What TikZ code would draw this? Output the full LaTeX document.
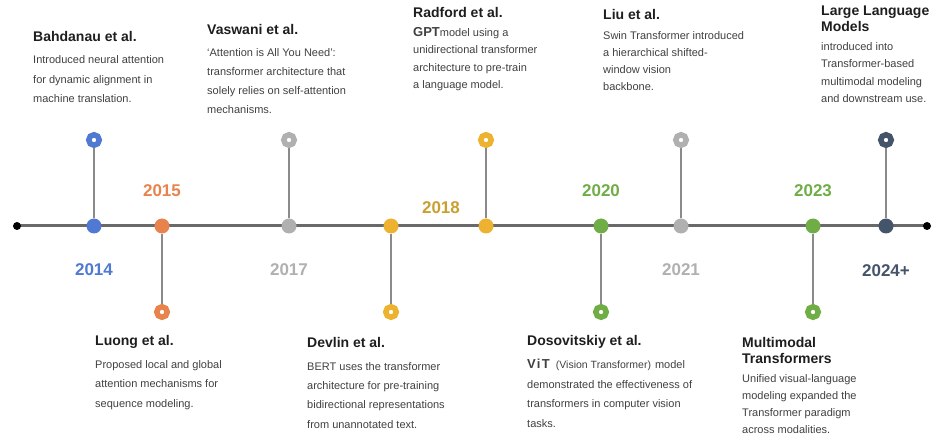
\documentclass[tikz,border=0pt]{standalone}
\usepackage{fontspec}
\setmainfont{Liberation Sans}
\definecolor{cblue}{RGB}{79,121,211}
\definecolor{corange}{RGB}{232,131,78}
\definecolor{cgray}{RGB}{176,176,176}
\definecolor{cgold}{RGB}{237,178,47}
\definecolor{cgoldtext}{RGB}{201,160,48}
\definecolor{cgreen}{RGB}{112,173,71}
\definecolor{cnavy}{RGB}{68,84,106}
\definecolor{axisgray}{RGB}{105,105,105}
\definecolor{stemgray}{RGB}{138,138,138}
\definecolor{titlecol}{RGB}{30,30,30}
\definecolor{bodycol}{RGB}{64,64,64}
\tikzset{
  axis/.style={line width=3pt, draw=axisgray},
  stem/.style={line width=1.8pt, draw=stemgray},
  dot/.style={circle, fill=#1, minimum size=15pt, inner sep=0pt},
  ring/.style={circle, draw=#1, line width=5.5pt, fill=white, minimum size=10.5pt, inner sep=0pt},
  enddot/.style={circle, fill=black, minimum size=8pt, inner sep=0pt},
  year/.style={text=#1, inner sep=0pt, font=\fontsize{17}{20}\selectfont\bfseries},
  % multi-line nodes: base anchor sits on the last line
  title/.style={anchor=base west, inner sep=0pt, text=titlecol, align=left, font=\fontsize{14}{16}\selectfont\bfseries},
  body/.style={anchor=base west, inner sep=0pt, text=bodycol, align=left, font=\fontsize{11}{#1}\selectfont},
}
\begin{document}
\begin{tikzpicture}[x=1pt,y=-1pt]
    \useasboundingbox (0,0) rectangle (932,438);
    % axis
    \coordinate (L) at (17,226);
    \coordinate (R) at (927,226);
    \draw[axis] (L) -- (R);
    \node[enddot] (Ldot) at (L) {};
    \node[enddot] (Rdot) at (R) {};
    % dots on the axis
    \node[dot=cblue] (d14) at (94,226) {};
    \node[dot=corange] (d15) at (162,226) {};
    \node[dot=cgray] (d17) at (289,226) {};
    \node[dot=cgold] (d18a) at (391,226) {};
    \node[dot=cgold] (d18b) at (486,226) {};
    \node[dot=cgreen] (d20) at (601,226) {};
    \node[dot=cgray] (d21) at (681,226) {};
    \node[dot=cgreen] (d23) at (813,226) {};
    \node[dot=cnavy] (d24) at (886,226) {};
    % rings above and below
    \node[ring=cblue] (r14) at (94,140) {};
    \node[ring=corange] (r15) at (162,312) {};
    \node[ring=cgray] (r17) at (289,140) {};
    \node[ring=cgold] (r18a) at (391,312) {};
    \node[ring=cgold] (r18b) at (486,140) {};
    \node[ring=cgreen] (r20) at (601,312) {};
    \node[ring=cgray] (r21) at (681,140) {};
    \node[ring=cgreen] (r23) at (813,312) {};
    \node[ring=cnavy] (r24) at (886,140) {};
    \draw[stem] (d14) -- (r14);
    \draw[stem] (d15) -- (r15);
    \draw[stem] (d17) -- (r17);
    \draw[stem] (d18a) -- (r18a);
    \draw[stem] (d18b) -- (r18b);
    \draw[stem] (d20) -- (r20);
    \draw[stem] (d21) -- (r21);
    \draw[stem] (d23) -- (r23);
    \draw[stem] (d24) -- (r24);
    % years
    \node[year=cblue] (y14) at (94,270) {2014};
    \node[year=corange] (y15) at (162,191) {2015};
    \node[year=cgray] (y17) at (289,270) {2017};
    \node[year=cgoldtext] (y18) at (441,208) {2018};
    \node[year=cgreen] (y20) at (601,191) {2020};
    \node[year=cgray] (y21) at (681,270) {2021};
    \node[year=cgreen] (y23) at (813,191) {2023};
    \node[year=cnavy] (y24) at (886,271) {2024+};
    % upper texts
    \node[title] (t14) at (33,42) {Bahdanau et al.};
    \node[body=19.5] (b14) at (33,103) {Introduced neural attention\\for dynamic alignment in\\machine translation.};
    \node[title] (t17) at (207,35) {Vaswani et al.};
    \node[body=19] (b17) at (207,114) {‘Attention is All You Need’:\\transformer architecture that\\solely relies on self-attention\\mechanisms.};
    \node[title] (t18b) at (413,18) {Radford et al.};
    \node[body=17.5] (b18b) at (413,89) {{\fontsize{13}{15}\selectfont\bfseries GPT}model using a\\unidirectional transformer\\architecture to pre-train\\a language model.};
    \node[title] (t21) at (603,20) {Liu et al.};
    \node[body=17] (b21) at (603,91) {Swin Transformer introduced\\a hierarchical shifted-\\window vision\\backbone.};
    \node[title] (t24) at (821,32) {Large Language\\Models};
    \node[body=17.5] (b24) at (821,103) {introduced into\\Transformer-based\\multimodal modeling\\and downstream use.};
    % lower texts
    \node[title] (t15) at (95,346) {Luong et al.};
    \node[body=19.5] (b15) at (95,407) {Proposed local and global\\attention mechanisms for\\sequence modeling.};
    \node[title] (t18a) at (307,348) {Devlin et al.};
    \node[body=19.3] (b18a) at (307,428) {BERT uses the transformer\\architecture for pre-training\\bidirectional representations\\from unannotated text.};
    \node[title] (t20) at (527,346) {Dosovitskiy et al.};
    \node[body=19.5] (b20) at (527,427) {{\fontsize{13}{15}\selectfont\bfseries V\kern1pt i\kern1.5pt T}\hspace{6pt}{\fontsize{10.5}{12}\selectfont(Vision Transformer)}\hspace{4pt}model\\demonstrated the effectiveness of\\transformers in computer vision\\tasks.};
    \node[title] (t23) at (742,363) {Multimodal\\Transformers};
    \node[body=17] (b23) at (742,433) {Unified visual-language\\modeling expanded the\\Transformer paradigm\\across modalities.};
\end{tikzpicture}
\end{document}
